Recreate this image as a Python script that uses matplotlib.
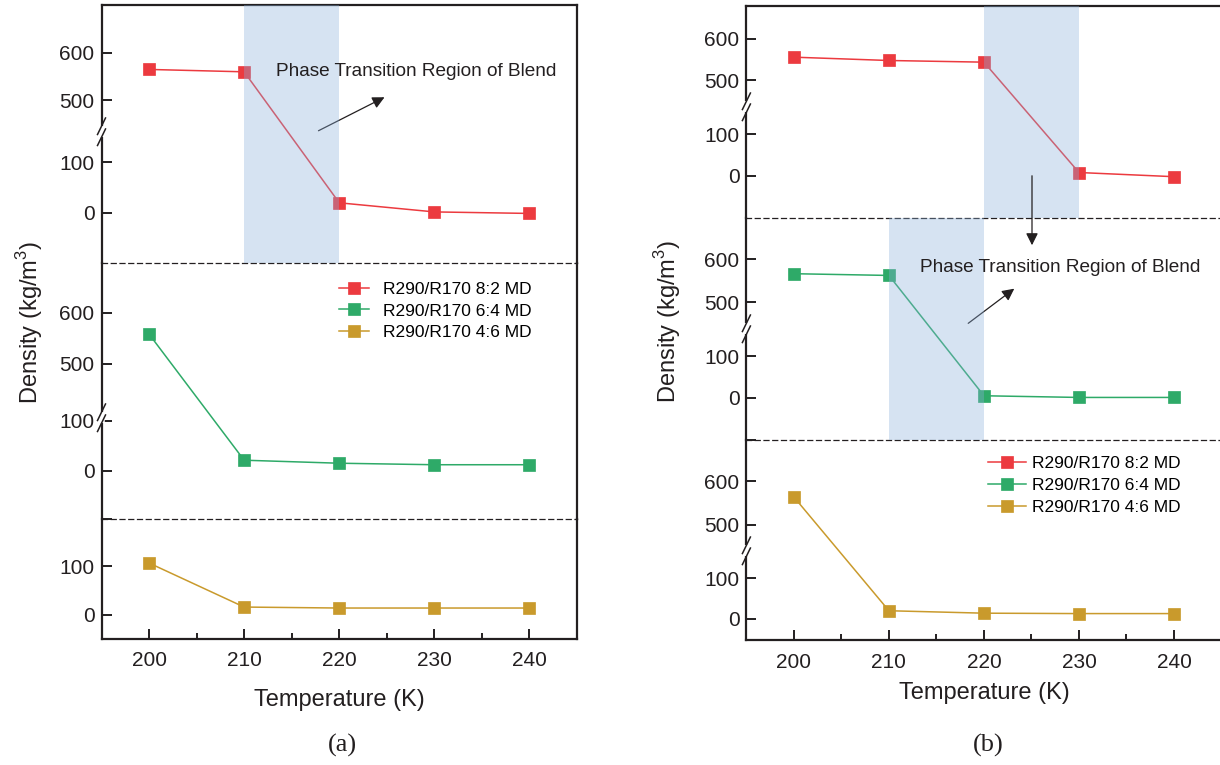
import numpy as np
import matplotlib.pyplot as plt
from matplotlib.ticker import FixedLocator, MultipleLocator

plt.rcParams['font.family'] = ['Liberation Sans', 'DejaVu Sans']
plt.rcParams['mathtext.fontset'] = 'custom'
plt.rcParams['mathtext.rm'] = 'Liberation Sans'

# data
temps = [200, 210, 220, 230, 240]
labels = ['R290/R170 8:2 MD', 'R290/R170 6:4 MD', 'R290/R170 4:6 MD']
colors = ['#EC3A3F', '#2EAA68', '#C99A2C']

r82_a = [565, 560, 20, 2, -1]
r64_a = [558, 21, 15, 12, 12]
r46_a = [107, 16, 14, 14, 14]

r82_b = [556, 548, 544, 8, -2]
r64_b = [566, 562, 5, 1, 1]
r46_b = [564, 20, 14, 13, 13]

shade_a = [(210, 220), None, None]
shade_b = [(220, 230), (210, 220), None]

note = 'Phase Transition Region of Blend'
ink = '#231F20'

W, H = 1220, 765
fig = plt.figure(figsize=(12.2, 7.65), dpi=100)


def broken_scale(lo0, lo1, hi0, hi1, f):
    eps = 0.002

    def fwd(y):
        y = np.asarray(y, float)
        low = (y - lo0) / (lo1 - lo0) * f
        gap = f + (y - lo1) / (hi0 - lo1) * eps
        up = f + eps + (y - hi0) / (hi1 - hi0) * (1 - f - eps)
        return np.where(y <= lo1, low, np.where(y >= hi0, up, gap))

    def inv(u):
        u = np.asarray(u, float)
        low = lo0 + u / f * (lo1 - lo0)
        gap = lo1 + (u - f) / eps * (hi0 - lo1)
        up = hi0 + (u - f - eps) / (1 - f - eps) * (hi1 - hi0)
        return np.where(u <= f, low, np.where(u >= f + eps, up, gap))

    return fwd, inv


def sub_axes(l, r, t, b, rng, brk, first, last, shade):
    ax = fig.add_axes([l / W, 1 - b / H, (r - l) / W, (b - t) / H])
    ax.patch.set_visible(False)
    ax.set_xlim(195, 245)
    if brk is None:
        ax.set_ylim(rng[0], rng[1])
        ax.yaxis.set_major_locator(FixedLocator([0, 100]))
    else:
        lo0, lo1, hi0, hi1 = rng
        f = (b - brk) / (b - t)
        ax.set_yscale('function', functions=broken_scale(lo0, lo1, hi0, hi1, f))
        ax.set_ylim(lo0, hi1)
        ax.yaxis.set_major_locator(FixedLocator([0, 100, 500, 600]))
        # break marks on the left spine
        y0 = f + 0.001
        dy = 5.5 / (b - t)
        dx = 4.0 / (r - l)
        ax.plot([0, 0], [y0 - dy, y0 + dy], transform=ax.transAxes, color='white',
                lw=4, clip_on=False, zorder=6, solid_capstyle='butt')
        for yy in (y0 - dy, y0 + dy):
            ax.plot([-dx, dx], [yy - 1.5 * dy, yy + 1.5 * dy], transform=ax.transAxes,
                    color=ink, lw=1.1, clip_on=False, zorder=7)
    if not first:
        ax.yaxis.set_minor_locator(FixedLocator([ax.get_ylim()[0]]))
    for s in ax.spines.values():
        s.set_color(ink)
        s.set_linewidth(1.6)
    ax.spines['top'].set_visible(first)
    if not last:
        ax.spines['bottom'].set_linewidth(0.9)
        ax.spines['bottom'].set_linestyle((0, (4, 3)))
    ax.tick_params(axis='y', direction='in', length=7, width=1.4, colors=ink,
                   labelsize=15, pad=5, right=False)
    ax.tick_params(axis='y', which='minor', direction='in', length=7, width=1.4,
                   colors=ink, right=False)
    if last:
        ax.xaxis.set_major_locator(MultipleLocator(10))
        ax.xaxis.set_minor_locator(MultipleLocator(5))
        ax.tick_params(axis='x', direction='in', length=7.5, width=1.4, colors=ink,
                       labelsize=15, pad=9, top=False)
        ax.tick_params(axis='x', which='minor', direction='in', length=4,
                       width=1.4, colors=ink, top=False)
    else:
        ax.tick_params(axis='x', which='both', bottom=False, top=False,
                       labelbottom=False)
    if shade is not None:
        ax.axvspan(shade[0], shade[1], color='#8AAFDA', alpha=0.35, lw=0, zorder=4)
    return ax


def draw_line(ax, y, c, label):
    return ax.plot(temps, y, '-s', color=c, lw=1.1, ms=8, mec=c, mew=0.5,
                   label=label, zorder=3)[0]


arrow = dict(arrowstyle='-|>', color=ink, lw=0.9, mutation_scale=18)

# ---------- panel (a) ----------
la, ra = 101.5, 577
a_top = sub_axes(la, ra, 5, 263, (-99, 160, 435, 700), 132, True, False, shade_a[0])
a_mid = sub_axes(la, ra, 263, 518.5, (-95, 105, 395, 697), 418, False, False, shade_a[1])
a_bot = sub_axes(la, ra, 518.5, 639, (-50, 199), None, False, True, shade_a[2])

ha = [draw_line(a_top, r82_a, colors[0], labels[0]),
      draw_line(a_mid, r64_a, colors[1], labels[1]),
      draw_line(a_bot, r46_a, colors[2], labels[2])]

fig.legend(handles=ha, loc='upper left', bbox_to_anchor=(339 / W, 1 - 282 / H),
           frameon=False, fontsize=12.5, handlelength=1.7, handletextpad=0.85,
           labelspacing=0.36, borderpad=0, borderaxespad=0)

fig.text(276 / W, 1 - 72 / H, note, fontsize=13.7, color=ink, va='center', zorder=10)
a_top.annotate('', xy=(387, H - 96), xytext=(316, H - 132),
               xycoords='figure pixels', textcoords='figure pixels',
               annotation_clip=False, arrowprops=arrow)

fig.text(30 / W, 1 - 322 / H, 'Density (kg/m$^3$)', rotation=90, ha='center',
         va='center', fontsize=17, color=ink)
fig.text((la + ra) / 2 / W, 1 - 700 / H, 'Temperature (K)', ha='center', va='center',
         fontsize=17, color=ink)
fig.text(342 / W, 1 - 745 / H, '(a)', ha='center', va='center', fontsize=19,
         family='Liberation Serif', color=ink)

# ---------- panel (b) ----------
lb, rb = 746.4, 1221.5
b_top = sub_axes(lb, rb, 5.7, 218, (-101, 165, 437, 680), 107, True, False, shade_b[0])
b_mid = sub_axes(lb, rb, 218, 440, (-101, 165, 439, 695), 329, False, False, shade_b[1])
b_bot = sub_axes(lb, rb, 440, 640, (-52, 167, 440, 696), 551, False, True, shade_b[2])

hb = [draw_line(b_top, r82_b, colors[0], labels[0]),
      draw_line(b_mid, r64_b, colors[1], labels[1]),
      draw_line(b_bot, r46_b, colors[2], labels[2])]

fig.legend(handles=hb, loc='upper left', bbox_to_anchor=(988 / W, 1 - 456 / H),
           frameon=False, fontsize=12.5, handlelength=2.2, handletextpad=0.35,
           labelspacing=0.38, borderpad=0, borderaxespad=0)

b_mid.annotate('', xy=(1032, H - 248), xytext=(1032, H - 173), xycoords='figure pixels',
               textcoords='figure pixels', annotation_clip=False, arrowprops=arrow)
fig.text(920 / W, 1 - 267 / H, note, fontsize=13.7, color=ink, va='center', zorder=10)
b_mid.annotate('', xy=(1016.5, H - 287), xytext=(966, H - 325), xycoords='figure pixels',
               textcoords='figure pixels', annotation_clip=False, arrowprops=arrow)

fig.text(668 / W, 1 - 321 / H, 'Density (kg/m$^3$)', rotation=90, ha='center',
         va='center', fontsize=17, color=ink)
fig.text((lb + rb) / 2 / W, 1 - 693 / H, 'Temperature (K)', ha='center', va='center',
         fontsize=17, color=ink)
fig.text(988 / W, 1 - 745 / H, '(b)', ha='center', va='center', fontsize=19,
         family='Liberation Serif', color=ink)

fig.savefig('out.png', dpi=100)
